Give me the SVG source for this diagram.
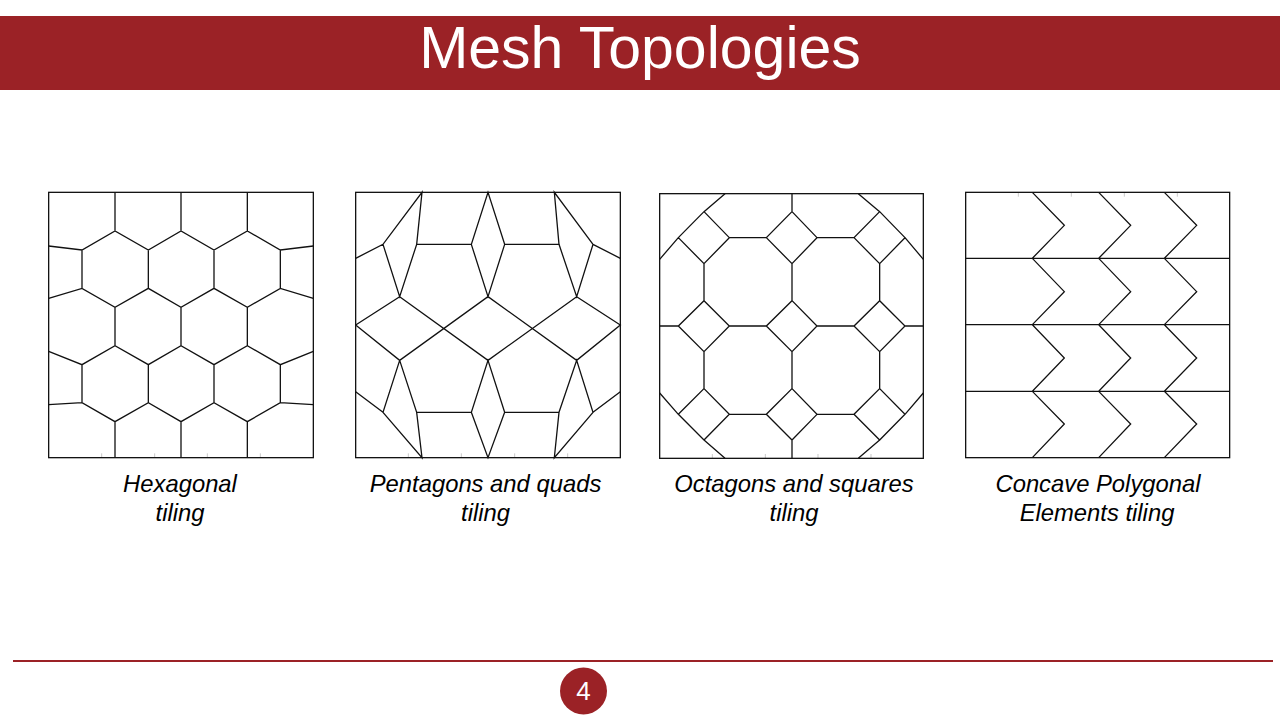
<svg xmlns="http://www.w3.org/2000/svg" width="1280" height="720" viewBox="0 0 1280 720">
<style>
.m{fill:none;stroke:#111;stroke-width:3.9;stroke-linejoin:miter}
.t{fill:none;stroke:#bbb;stroke-width:2.4}
.c{font-family:"Liberation Sans",Arial,sans-serif;font-size:23.8px;font-style:italic;fill:#000;text-anchor:middle}
</style>
<rect width="1280" height="720" fill="#fff"/>
<g id="header"><rect y="16" width="1280" height="74" fill="#9b2226"/>
<text x="640" y="67.500" font-family="Liberation Sans, Arial, sans-serif" font-size="59" fill="#fff" text-anchor="middle">Mesh Topologies</text></g>
<g id="hexagonal" transform="translate(40,185) scale(.33333)">
<path class="t" d="M185 805V818M344 805V818M502 805V818M661 805V818"/>
<rect class="m" x="26" y="22" width="794" height="796"/>
<path class="m" d="M225 22V138M423 22V138M622 22V138M26 183L126 195L225 138L325 195L423 138L522 195L622 138L721 195L820 183M126 195V310M325 195V310M522 195V310M721 195V310M26 340L126 310L225 367L325 310L423 367L522 310L622 367L721 310L820 340M225 367V482M423 367V482M622 367V482M26 499L126 539L225 482L325 539L423 482L522 539L622 482L721 539L820 499M126 539V653M325 539V653M522 539V653M721 539V653M26 659L126 653L225 710L325 653L423 710L522 653L622 710L721 653L820 659M225 710V818M423 710V818M622 710V818"/>
</g>
<g id="pentagons" transform="translate(345,185) scale(.33333)">
<path class="t" d="M190 805V818M349 805V818M509 805V818M668 805V818"/>
<rect class="m" x="32" y="22" width="794" height="796"/>
<path class="m" d="M32 220L114 178L231 22L215 178L164 335L114 178M215 178H379L429 22L479 178L429 335L379 178M479 178H642L628 22L744 178L695 335L642 178M744 178L826 220M32 420L164 335L429 526L695 335L826 420L695 526L429 335L164 526L32 420M164 526L215 682L231 818L114 682L164 526M32 620L114 682M215 682H379L429 526L479 682L429 818L379 682M479 682H642L695 526L744 682L628 818L642 682M744 682L826 620"/>
</g>
<g id="octagons" transform="translate(650,185) scale(.33333)">
<path class="t" d="M187 807V820M346 807V820M504 807V820M663 807V820"/>
<rect class="m" x="29" y="26" width="791" height="794"/>
<path class="m" d="M29 223L85 158L162 80L225 26M85 158L162 236L238 158L162 80M238 158H349L426 80L501 158L426 236L349 158M426 26V80M501 158H612L689 80L765 158L689 236L612 158M625 26L689 80M765 158L820 223M162 236V347M426 236V347M689 236V347M29 423H85L162 347L238 423L162 500L85 423M238 423H349L426 347L501 423L426 500L349 423M501 423H612L689 347L765 423L689 500L612 423M765 423H820M162 500V611M426 500V611M689 500V611M29 624L85 688L162 765L225 820M85 688L162 611L238 688L162 765M238 688H349L426 611L501 688L426 765L349 688M426 765V820M501 688H612L689 611L765 688L689 765L612 688M820 624L765 688M689 765L625 820"/>
</g>
<g id="concave" transform="translate(955,185) scale(.33333)">
<path class="t" d="M190 22V35M349 22V35M508 22V35M667 22V35"/>
<rect class="m" x="32" y="22" width="792" height="796"/>
<path class="m" d="M32 220H824M32 419H824M32 619H824M232 22L328 121L232 220L328 320L232 419L328 519L232 619L328 717L232 818M431 22L527 121L431 220L527 320L431 419L527 519L431 619L527 717L431 818M628 22L725 121L628 220L725 320L628 419L725 519L628 619L725 717L628 818"/>
</g>
<g id="captions">
<text class="c" x="180" y="492">Hexagonal</text><text class="c" x="180" y="521">tiling</text>
<text class="c" x="485.500" y="492">Pentagons and quads</text><text class="c" x="485.500" y="521">tiling</text>
<text class="c" x="794" y="492">Octagons and squares</text><text class="c" x="794" y="521">tiling</text>
<text class="c" x="1098" y="492">Concave Polygonal</text><text class="c" x="1097" y="521">Elements tiling</text>
</g>
<g id="footer"><path d="M13 661H1273" stroke="#9b2226" stroke-width="2" fill="none"/>
<circle cx="583.500" cy="691" r="23.500" fill="#9b2226"/>
<text x="583.500" y="700" font-family="Liberation Sans, Arial, sans-serif" font-size="26" fill="#fff" text-anchor="middle">4</text></g>
</svg>
